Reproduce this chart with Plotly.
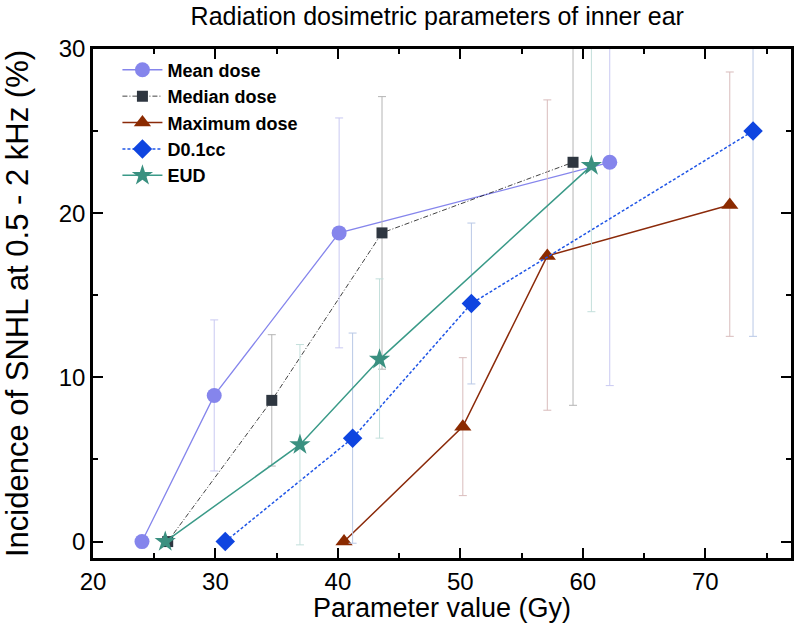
import plotly.graph_objects as go

# series values
mean_x = [24.0, 29.9, 40.1, 62.2]
mean_y = [0.0, 8.9, 18.8, 23.1]
mean_hi = [0.0, 13.5, 25.8, 34.0]
mean_lo = [0.0, 4.3, 11.8, 9.5]

median_x = [26.1, 34.6, 43.6, 59.2]
median_y = [0.0, 8.6, 18.8, 23.1]
median_hi = [0.0, 12.6, 27.1, 34.0]
median_lo = [0.0, 4.6, 10.5, 8.3]

max_x = [40.5, 50.2, 57.1, 72.0]
max_y = [0.0, 7.0, 17.4, 20.5]
max_hi = [0.0, 11.2, 26.9, 28.6]
max_lo = [0.0, 2.8, 8.0, 12.5]

d01_x = [30.8, 41.2, 50.9, 73.9]
d01_y = [0.0, 6.3, 14.5, 25.0]
d01_hi = [0.0, 12.7, 19.4, 34.0]
d01_lo = [0.0, -0.1, 9.6, 12.5]

eud_x = [25.9, 36.9, 43.4, 60.7]
eud_y = [0.0, 5.9, 11.1, 22.9]
eud_hi = [0.0, 12.0, 16.0, 34.0]
eud_lo = [0.0, -0.2, 6.3, 14.0]

series = [
    ("Mean dose", mean_x, mean_y, mean_hi, mean_lo,
     "#8585ec", "solid", 1.3, "circle", 15, "#8585ec", "#c9c9f2"),
    ("Median dose", median_x, median_y, median_hi, median_lo,
     "#111111", "5px,2px,1px,2px", 0.8, "square", 11, "#2e3640", "#b4b4b4"),
    ("Maximum dose", max_x, max_y, max_hi, max_lo,
     "#8b2a0a", "solid", 1.5, "triangle-up", 15, "#8b2a00", "#d9bcbc"),
    ("D0.1cc", d01_x, d01_y, d01_hi, d01_lo,
     "#1f55e6", "3px,2px", 1.5, "diamond", 15, "#0f45e0", "#b9c8e6"),
    ("EUD", eud_x, eud_y, eud_hi, eud_lo,
     "#3a9a88", "solid", 1.5, "star", 16, "#3a9080", "#c3dfdb"),
]

fig = go.Figure()
for name, xs, ys, hi, lo, lc, dash, lw, sym, ms, mc, ec in series:
    fig.add_trace(go.Scatter(
        x=xs, y=ys, name=name, mode="lines+markers",
        line=dict(color=lc, dash=dash, width=lw),
        marker=dict(symbol=sym, size=ms, color=mc),
        error_y=dict(type="data", symmetric=False,
                     array=[h - v for h, v in zip(hi, ys)],
                     arrayminus=[v - l for l, v in zip(lo, ys)],
                     color=ec, thickness=1, width=4),
    ))

axis_common = dict(
    showline=True, linecolor="black", linewidth=2.5, mirror="ticks",
    ticks="inside", ticklen=10, tickwidth=1.5, tickcolor="black",
    showgrid=False, zeroline=False, automargin=False,
    tickfont=dict(size=24, color="black"),
)

fig.update_layout(
    width=795, height=641,
    margin=dict(l=93, r=4, t=49, b=83),
    paper_bgcolor="white", plot_bgcolor="white",
    font=dict(family="Liberation Sans, Arial, sans-serif", color="black"),
    title=dict(text="Radiation dosimetric parameters of inner ear",
               x=0.55, xanchor="center", y=0.975, yanchor="middle",
               font=dict(size=25)),
    xaxis=dict(range=[20, 77], dtick=10, tick0=20,
               minor=dict(dtick=5, ticks="inside", ticklen=5, tickcolor="black"),
               **axis_common),
    yaxis=dict(range=[-1, 30], dtick=10, tick0=0,
               minor=dict(dtick=5, ticks="inside", ticklen=5, tickcolor="black"),
               title=dict(text="Incidence of SNHL at 0.5 - 2 kHz (%)", font=dict(size=31), standoff=31),
               **axis_common),
    legend=dict(x=0.035, y=0.995, xanchor="left", yanchor="top",
                bgcolor="rgba(0,0,0,0)", tracegroupgap=0,
                font=dict(size=18, weight="bold", color="black"),
                itemwidth=40),
    showlegend=True,
)

# x title as an annotation so it can sit close under the tick labels
fig.add_annotation(text="Parameter value (Gy)", xref="paper", yref="paper",
                   x=0.5, y=-0.098, xanchor="center", yanchor="middle",
                   showarrow=False, font=dict(size=27, color="black"))

# drop the default page margin so the figure sits at the window corner
fig.write_html("out.html", config={"displayModeBar": False},
               post_script="document.body.style.margin='0px';")
